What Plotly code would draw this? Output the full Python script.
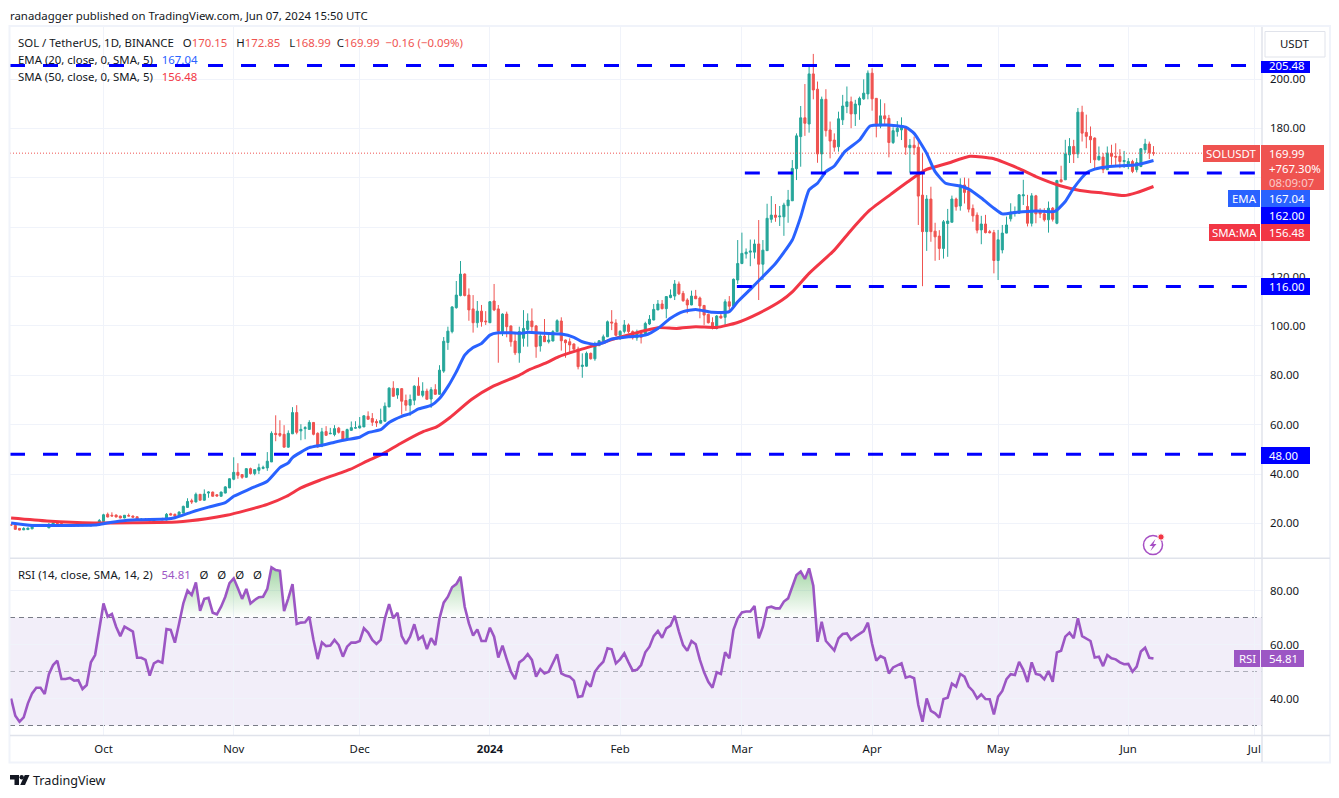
import pandas as pd
import plotly.graph_objects as go

# candles, Sep 9 2023 to Jun 7 2024
first_day = "2023-09-09"
last_day = "2024-06-07"

opens = [
    19.5, 19.2, 18.0, 17.4, 17.5, 17.8, 18.8, 19.2, 19.1, 18.2, 19.6, 20.2, 20.0, 19.3, 19.5, 19.4, 19.0, 19.3, 19.1, 19.0, 19.8, 19.6,
    20.8, 23.7, 23.3, 23.4, 23.0, 22.2, 23.2, 23.0, 22.7, 21.6, 21.7, 21.5, 20.6, 21.6, 21.7, 21.4, 23.9, 23.7, 22.9, 24.2, 26.5, 29.2, 28.7, 31.8, 29.4, 32.3, 32.7, 31.6, 31.0, 32.3, 34.4,
    37.9, 40.7, 39.8, 38.7, 42.2, 40.2, 41.5, 42.3, 42.5, 44.9, 56.5, 56.4, 56.1, 50.9, 56.3, 64.9, 57.5, 58.4, 58.1, 60.9, 56.5, 51.3, 57.2, 56.3, 56.0, 58.6, 57.3, 54.2, 57.7, 58.6,
    58.7, 59.1, 63.4, 62.5, 61.3, 60.6, 61.4, 67.2, 74.8, 72.0, 74.6, 69.8, 67.9, 69.9, 75.6, 71.9, 73.6, 70.4, 74.2, 72.3, 81.7, 93.3, 97.7, 107.4, 112.3, 121.0, 112.5, 106.9, 101.3, 106.0, 102.0,
    101.3, 110.1, 106.9, 97.7, 104.8, 100.0, 93.9, 89.1, 95.0, 98.6, 102.0, 100.0, 91.9, 95.9, 93.6, 93.9, 97.7, 102.0, 94.3, 93.6, 92.7, 90.6, 83.6, 83.7, 88.9, 86.7, 92.0, 94.0, 95.6, 101.6, 101.2,
    96.2, 97.8, 100.4, 97.7, 95.2, 97.0, 96.2, 100.8, 102.4, 106.5, 108.9, 107.0, 111.5, 112.1, 117.0, 113.2, 110.5, 108.5, 112.1, 111.3, 108.3, 104.7, 101.4, 99.0, 104.0, 103.5, 109.8, 108.1, 118.6,
    125.3, 129.2, 129.9, 129.9, 133.2, 125.0, 130.5, 143.2, 144.9, 144.2, 144.2, 148.7, 150.7, 163.7, 176.7, 184.3, 181.8, 202.1, 195.9, 169.7, 191.8, 179.4, 175.3, 172.6, 183.5, 188.9, 190.8, 185.9, 189.5, 192.0, 194.0,
    202.4, 192.2, 181.0, 185.1, 184.1, 174.3, 178.7, 179.4, 180.5, 172.2, 173.2, 172.4, 153.0, 138.2, 151.4, 138.4, 136.4, 131.4, 141.5, 142.0, 151.4, 148.6, 157.1, 154.8, 147.6, 144.9, 138.9, 141.3, 138.2, 137.8,
    126.5, 130.8, 137.6, 143.4, 145.9, 145.7, 152.7, 148.4, 141.6, 152.7, 146.3, 145.4, 143.0, 147.7, 141.6, 159.2, 159.2, 169.3, 172.7, 169.7, 186.6, 178.4, 176.8, 176.1, 167.3, 168.4, 163.3, 170.0, 168.7, 168.7, 166.6,
    165.7, 166.6, 163.3, 164.6, 171.4, 173.7, 170.15,
]
closes = [
    19.3, 17.6, 17.3, 17.9, 18.1, 18.8, 19.1, 19.0, 18.8, 19.6, 20.2, 20.0, 19.3, 19.5, 19.4, 19.0, 19.3, 19.1, 19.4, 19.8, 19.6, 21.2,
    23.5, 22.6, 23.0, 22.6, 22.2, 23.3, 23.0, 22.5, 21.4, 21.7, 21.5, 21.0, 21.6, 21.7, 21.5, 23.7, 23.4, 22.9, 24.6, 26.9, 28.9, 28.7, 31.8, 29.4, 31.9, 32.7, 31.0, 31.1, 32.7, 34.8, 38.1,
    40.7, 39.5, 38.7, 42.2, 40.2, 41.8, 42.6, 42.7, 45.2, 56.5, 56.0, 55.7, 50.9, 56.5, 64.9, 56.9, 58.1, 58.8, 60.9, 56.1, 51.0, 57.1, 55.7, 56.5, 58.4, 56.9, 54.2, 58.0, 58.8, 58.8,
    59.5, 63.6, 62.2, 61.0, 60.7, 61.7, 67.5, 74.8, 71.5, 74.6, 69.5, 67.9, 70.2, 75.6, 71.9, 73.6, 70.3, 74.2, 72.3, 82.1, 93.8, 97.9, 107.7, 112.5, 121.0, 112.3, 106.5, 101.3, 106.0, 101.7, 101.7,
    109.8, 106.5, 97.9, 104.8, 99.7, 93.6, 89.1, 97.7, 99.0, 102.0, 99.7, 91.6, 95.9, 93.6, 94.3, 97.7, 102.1, 94.0, 93.2, 92.3, 90.6, 83.5, 84.1, 88.9, 86.7, 92.9, 94.0, 95.6, 101.7, 101.2, 96.2,
    97.8, 100.4, 97.7, 95.2, 97.0, 95.4, 101.0, 102.7, 106.7, 108.9, 107.0, 111.9, 112.5, 117.0, 113.0, 110.2, 108.5, 112.1, 111.0, 108.1, 104.4, 101.3, 99.4, 104.0, 103.2, 109.8, 108.0, 118.9, 125.3,
    129.4, 129.9, 130.3, 133.2, 125.0, 130.7, 143.6, 144.9, 144.0, 144.5, 149.0, 151.0, 163.8, 177.0, 184.3, 182.1, 202.1, 195.6, 169.7, 191.8, 179.1, 174.9, 172.4, 183.9, 189.1, 190.8, 185.9, 189.9, 192.2, 194.3, 202.4,
    192.0, 181.0, 185.1, 183.9, 174.3, 179.1, 180.1, 180.5, 172.4, 173.2, 172.2, 152.6, 138.2, 151.4, 138.2, 136.1, 131.4, 142.2, 142.5, 151.4, 148.3, 157.1, 154.1, 147.3, 144.6, 138.8, 141.3, 137.8, 137.8, 126.5,
    134.9, 137.6, 140.9, 146.1, 146.3, 153.1, 153.1, 141.6, 152.7, 145.4, 145.4, 143.0, 147.7, 143.2, 158.9, 158.4, 169.7, 172.7, 169.7, 186.6, 178.1, 176.8, 175.4, 167.3, 168.7, 163.3, 170.0, 168.7, 168.4, 166.6, 167.0,
    166.6, 162.6, 166.2, 171.8, 173.7, 170.15, 169.99,
]
highs = [
    19.7, 19.3, 18.1, 18.5, 18.3, 19.0, 19.3, 19.4, 19.3, 20.2, 20.5, 20.6, 20.2, 19.7, 19.7, 19.5, 19.4, 19.5, 19.6, 20.0, 20.1, 21.8,
    23.9, 24.4, 24.5, 23.6, 23.1, 23.4, 24.0, 23.2, 22.8, 22.2, 22.2, 21.7, 21.8, 21.9, 22.3, 24.2, 24.3, 24.0, 24.9, 27.2, 30.2, 30.0, 32.5, 31.9, 33.8, 33.0, 32.9, 31.9, 32.9, 35.1, 38.3,
    46.8, 44.4, 39.9, 42.4, 42.6, 41.9, 44.2, 43.4, 48.9, 57.3, 63.8, 61.8, 59.8, 57.7, 67.1, 67.9, 60.2, 59.4, 61.8, 61.1, 56.9, 58.7, 59.4, 58.7, 59.8, 59.1, 57.4, 58.4, 61.3, 61.4,
    63.1, 63.8, 65.4, 64.7, 62.2, 66.5, 69.0, 75.2, 77.6, 74.8, 74.8, 72.2, 72.2, 76.0, 79.2, 77.2, 74.6, 75.2, 76.4, 84.1, 95.5, 99.7, 108.0, 118.2, 126.3, 121.3, 115.2, 112.5, 110.1, 108.5, 106.0,
    110.1, 117.0, 108.5, 105.1, 105.8, 100.2, 97.0, 99.7, 106.4, 105.1, 107.1, 100.4, 97.0, 102.8, 96.7, 98.3, 102.7, 103.5, 94.5, 95.0, 92.9, 91.6, 88.9, 89.6, 89.2, 93.6, 94.3, 96.5, 102.2, 106.4, 102.7,
    98.3, 102.4, 101.0, 98.2, 98.5, 98.4, 101.7, 104.4, 108.9, 110.5, 110.5, 112.1, 114.8, 118.6, 118.0, 114.2, 111.2, 114.3, 114.6, 111.9, 108.5, 105.0, 103.5, 104.4, 105.0, 110.8, 112.1, 119.2, 134.8,
    137.8, 131.4, 135.0, 135.0, 142.9, 134.8, 149.5, 152.6, 149.4, 148.6, 149.9, 155.1, 167.2, 178.0, 189.1, 198.0, 205.4, 210.2, 199.0, 192.9, 195.9, 182.8, 178.0, 186.8, 193.6, 197.0, 192.9, 191.6, 192.9, 199.9, 203.5,
    204.4, 192.2, 191.8, 190.2, 185.5, 180.5, 183.0, 184.5, 181.0, 175.7, 176.7, 176.0, 170.0, 153.0, 156.4, 141.8, 138.8, 142.9, 147.4, 152.8, 152.0, 159.8, 160.1, 159.8, 149.2, 146.0, 144.6, 145.0, 138.9, 138.9,
    138.9, 140.9, 144.3, 149.7, 148.4, 153.4, 159.2, 153.1, 153.8, 153.1, 147.7, 147.7, 150.4, 148.2, 159.2, 164.9, 175.4, 176.1, 175.4, 188.3, 189.2, 185.6, 180.8, 176.4, 172.7, 170.0, 172.7, 173.4, 174.0, 171.6, 170.9,
    168.0, 167.3, 168.0, 172.0, 175.8, 174.7, 172.85,
]
lows = [
    19.2, 17.5, 17.2, 17.3, 17.4, 17.7, 18.7, 18.8, 18.6, 18.1, 19.5, 19.8, 19.2, 19.2, 19.2, 18.9, 18.9, 19.0, 19.0, 18.9, 19.4, 19.4,
    20.7, 22.5, 22.9, 22.5, 22.1, 22.1, 22.9, 22.4, 21.2, 21.4, 21.3, 20.8, 20.5, 21.4, 21.3, 21.3, 23.3, 22.7, 22.8, 24.1, 26.3, 27.9, 28.5, 29.3, 29.2, 30.4, 30.9, 30.9, 30.9, 32.2, 34.3,
    37.5, 38.1, 38.1, 38.6, 39.8, 39.5, 40.0, 41.9, 41.3, 44.9, 53.3, 55.0, 50.8, 50.7, 56.2, 56.1, 53.7, 54.1, 58.1, 55.7, 50.7, 50.9, 55.6, 56.2, 55.3, 56.4, 53.3, 53.7, 57.5, 58.4,
    58.4, 59.0, 62.1, 59.5, 59.1, 60.5, 61.3, 67.1, 71.4, 70.5, 64.1, 65.6, 63.6, 67.9, 71.8, 71.1, 70.2, 66.8, 72.2, 72.2, 81.0, 90.3, 97.0, 107.0, 112.0, 112.0, 102.1, 97.3, 99.3, 99.7, 100.4,
    101.2, 106.0, 85.1, 95.9, 95.4, 91.6, 88.2, 85.1, 91.6, 91.6, 97.0, 87.1, 89.6, 93.5, 92.9, 93.8, 97.6, 90.0, 87.1, 88.9, 90.4, 82.4, 79.0, 83.5, 86.4, 85.9, 91.9, 93.2, 95.5, 98.3, 96.0,
    94.3, 97.0, 97.0, 94.5, 94.0, 92.9, 95.9, 100.4, 102.3, 106.4, 106.7, 103.1, 111.2, 110.5, 112.5, 109.8, 105.1, 108.4, 110.9, 103.1, 100.4, 101.0, 98.6, 98.6, 103.0, 100.4, 105.8, 107.9, 117.0,
    125.0, 127.3, 124.2, 127.3, 110.5, 118.6, 130.4, 141.8, 142.2, 140.5, 136.5, 141.8, 150.6, 159.1, 164.5, 177.0, 178.3, 191.8, 166.1, 161.8, 176.7, 167.9, 170.6, 170.6, 181.4, 186.2, 180.1, 181.0, 183.5, 191.6, 191.8,
    187.2, 176.4, 180.1, 181.4, 168.3, 173.7, 176.7, 175.3, 169.3, 162.1, 169.3, 140.9, 116.1, 130.4, 134.1, 126.4, 126.7, 127.3, 128.0, 142.0, 146.7, 146.7, 149.6, 146.0, 142.2, 137.5, 133.1, 137.5, 137.5, 121.3,
    118.6, 129.4, 137.5, 142.3, 144.3, 145.4, 149.0, 140.3, 140.3, 141.6, 143.7, 142.3, 137.8, 142.3, 141.2, 158.1, 159.1, 166.0, 166.0, 168.0, 174.7, 172.0, 166.0, 163.3, 167.0, 161.9, 163.2, 165.3, 164.6, 163.9, 164.0,
    163.5, 161.9, 162.2, 164.3, 170.0, 167.6, 168.99,
]

# one RSI value per candle
rsi_values = [
    40, 33.6, 31.4, 33, 38.2, 41.9, 44, 44, 41.7, 49, 52.4, 54, 47.2, 47.2, 47.6, 46.6, 46.8, 43.5, 45, 53.4, 56.1, 66,
    75.2, 70.3, 71.3, 66.6, 63.1, 66.6, 65.7, 64.8, 55.1, 55.1, 54.3, 48.5, 53, 53.9, 53.3, 65.7, 65.4, 60.7, 67.8, 75.2, 80, 78.3, 83, 72.5, 76.9, 77.3, 71.8, 71.2, 74, 77.7, 82.7,
    84.5, 80.8, 76.9, 80.6, 75.2, 76.5, 77.5, 77.7, 80.6, 88.6, 87.6, 87.3, 72.4, 77.1, 82.4, 67.6, 68.1, 68.2, 70.3, 61.7, 54.6, 60.8, 59.4, 59.6, 61.7, 59.8, 55.5, 59.2, 60.7, 60.7,
    61.3, 66, 64.4, 61.7, 60.2, 61.7, 69.7, 75, 69.7, 71.8, 63.1, 60.2, 62.9, 67.5, 61.9, 63.1, 58.3, 62.3, 59.8, 69.7, 75.5, 77.7, 81.2, 82.4, 85.1, 74, 67.8, 63.3, 65.6, 61.3, 61.3,
    66.2, 62.9, 55.2, 59.6, 54.6, 49.9, 47.2, 53.4, 54.5, 56.4, 54.3, 48.1, 50.9, 49.3, 49.9, 53, 56.4, 49.3, 48.5, 48.1, 46.6, 40.6, 40.9, 46, 44.4, 49.9, 52, 53.6, 58.6, 58.2, 53,
    54.5, 56.7, 53.4, 50.3, 50.6, 52.4, 57.1, 59.2, 63.1, 65, 62.5, 66, 67, 70.6, 64.8, 59.8, 57.7, 61.3, 60.1, 54.3, 49.7, 46.2, 44, 49.7, 49.1, 57.1, 54.9, 65.4, 69.7,
    71.9, 72.2, 72.2, 74.3, 62.3, 66.6, 73.6, 74, 73.4, 73.4, 75.9, 77.1, 81.8, 85.7, 87, 84.3, 88.2, 81.8, 61, 68.4, 61.3, 59.4, 57.8, 62.3, 63.9, 64.1, 61.7, 62.9, 63.9, 65, 68.1,
    60.2, 54, 55.7, 54.9, 49.3, 51.5, 52.4, 53, 47.7, 48.2, 47.5, 37.6, 31.4, 40, 35.4, 34.5, 32.9, 39.8, 40.3, 45.5, 44.4, 49.1, 48.1, 44.4, 42.8, 40, 41.5, 39.8, 39.7, 34.1,
    40.7, 42.8, 47.2, 49, 48.7, 53.6, 50.6, 46.1, 53.4, 49.1, 48.7, 47.1, 50.2, 46.2, 57.1, 57.7, 62.9, 64.4, 62.3, 69.7, 63.1, 62.3, 61.3, 55.2, 55.5, 52, 56.1, 54.9, 54.5, 53.4, 52.7,
    52.8, 49.9, 51.8, 57.4, 58.8, 55.1, 54.81,
]

# EMA and SMA read at spots along the lines, days counted from Oct 1 2023
ema_days = [-22, -17, -9, -2, 0, 4, 8, 15, 17, 21, 25, 29, 31, 35, 39, 42, 44, 45, 49, 52, 55, 58, 61, 63, 66, 68, 71, 73, 75, 78, 80, 82, 84, 86, 88, 90, 92, 94, 97, 99.5, 101, 105, 109, 112, 114, 117, 119, 121, 125, 129, 132, 135, 138, 141, 145, 149, 151, 154, 156, 160, 164, 166, 168, 170, 172, 174, 176.5, 180, 182.5, 186.5, 191, 193, 196, 198, 200.5, 204, 206, 209, 212, 214, 217.5, 222, 226.5, 229, 231, 234, 236, 239.5, 246, 250]
ema_values = [20.2, 19.2, 19.2, 19.35, 19.9, 21, 21.5, 21.8, 22.3, 24.6, 26.6, 28.4, 31, 34.1, 37.1, 42.6, 44.5, 46.7, 50.7, 51.7, 52.9, 54, 54.9, 56.8, 58, 60.9, 63.4, 64.5, 66.4, 67.8, 70.6, 75.4, 81.4, 88.2, 91.3, 92.9, 96.3, 97.2, 97.2, 97, 97.4, 97, 96.7, 95.4, 93.6, 92.5, 93.2, 94.7, 95.6, 96.3, 99, 103.1, 105.8, 106.7, 105.5, 105.8, 109.8, 114.8, 118.3, 125.3, 134.8, 144.2, 155.1, 157.8, 162.5, 164.8, 170.6, 175.3, 181, 181.4, 180.5, 178, 169.9, 162.5, 157.8, 156.7, 155.4, 151.8, 147.7, 145.4, 146.1, 146.6, 146.4, 150.4, 155.8, 161.9, 163.5, 164.6, 165.3, 167.04]
sma_days = [-22, -13.5, -2.4, 7, 17.4, 24.5, 29.3, 34, 39, 43.6, 47, 51.5, 58.7, 62.7, 66.6, 70.6, 76, 79.3, 82.5, 87.6, 92.8, 98.8, 101.5, 105.5, 108.3, 112.7, 116.6, 122, 127, 132, 136.5, 141, 146, 150.8, 156, 161.5, 164, 168, 174, 178, 182.5, 187.5, 191.5, 196, 201, 206.3, 212, 218, 222, 227.8, 232.5, 238, 243, 246, 250]
sma_values = [22.2, 21, 20.2, 20.3, 20.6, 21.9, 23.3, 25.3, 27.7, 31, 34.4, 37.5, 41.9, 45.2, 48.3, 52.3, 57.1, 59.1, 62.9, 70.2, 75.6, 79.9, 82.4, 85.1, 87.5, 90, 91.9, 95, 97.3, 99.3, 99, 99.7, 99.4, 101.3, 105.1, 110.4, 113.8, 121.3, 130.7, 138.8, 147, 153.4, 158.4, 163.4, 165.9, 168.7, 167.7, 163.7, 160.5, 156.8, 154.9, 153.8, 152.8, 154, 156.48]

# drawn support and resistance levels and where each starts
level_prices = [205.48, 162, 116, 48]
level_start_days = [-22.26, 152.7, 150.8, -22.26]

last_price = 169.99
price_ticks = [20, 40, 60, 80, 100, 120, 140, 160, 180, 200]
# 140 and 160 sit under the price boxes in the screenshot, only their gridlines show
price_labels = ["20.00", "40.00", "60.00", "80.00", "100.00", "120.00", "", "", "180.00", "200.00"]
rsi_ticks = [40, 60, 80]
month_ticks = ["2023-10-01", "2023-11-01", "2023-12-01", "2024-01-01", "2024-02-01", "2024-03-01", "2024-04-01", "2024-05-01", "2024-06-01", "2024-07-01"]
month_labels = ["Oct", "Nov", "Dec", "<b>2024</b>", "Feb", "Mar", "Apr", "May", "Jun", "Jul"]

UP = "#26a69a"
DOWN = "#ef5350"
EMA_BLUE = "#2962ff"
SMA_RED = "#f23645"
LEVEL_BLUE = "#0000ff"
RSI_PURPLE = "#9c56c4"
TEXT = "#131722"
GRID = "#f0f3fa"
BORDER = "#e0e3eb"
FONT = "Noto Sans"
FONT_SIZE = 11.4

# plot area in page pixels
LEFT, RIGHT, TOP, BOTTOM = 10, 1262, 27, 735
MAIN_BOTTOM, RSI_TOP = 557, 559


def px_x(x):
    return (x - LEFT) / (RIGHT - LEFT)


def px_y(y):
    return (BOTTOM - y) / (BOTTOM - TOP)


def day(d):
    return pd.Timestamp("2023-10-01") + pd.Timedelta(days=d)


def box(x0, y0, x1, y1, color, line=None):
    return dict(type="rect", xref="paper", yref="paper", layer="above",
                x0=px_x(x0), x1=px_x(x1), y0=px_y(y0), y1=px_y(y1),
                fillcolor=color, line=dict(color=line or color, width=1 if line else 0))


def poly(points, color):
    path = "M" + " L".join(f"{px_x(x):.5f},{px_y(y):.5f}" for x, y in points) + " Z"
    return dict(type="path", xref="paper", yref="paper", layer="above", path=path,
                fillcolor=color, line=dict(width=0))


def circle(cx, cy, r, fill, line, width):
    return dict(type="circle", xref="paper", yref="paper", layer="above",
                x0=px_x(cx - r), x1=px_x(cx + r), y0=px_y(cy + r), y1=px_y(cy - r),
                fillcolor=fill, line=dict(color=line, width=width))


def label(x, y, text, color=TEXT, size=FONT_SIZE, anchor="left"):
    return dict(xref="paper", yref="paper", x=px_x(x), y=px_y(y), text=text, showarrow=False,
                xanchor=anchor, yanchor="middle", align=anchor, borderpad=0, borderwidth=0,
                font=dict(family=FONT, size=size, color=color))


dates = pd.date_range(first_day, last_day, freq="D")
x_start, x_end = day((LEFT - 103.5) / 4.2), day((RIGHT - 103.5) / 4.2)

fig = go.Figure()

# green shading where the RSI goes over 70
fig.add_trace(go.Scatter(x=dates, y=[70] * len(dates), mode="lines", line=dict(width=0), yaxis="y"))
fig.add_trace(go.Scatter(
    x=dates, y=[max(v, 70) for v in rsi_values], mode="lines", line=dict(width=0), yaxis="y",
    fill="tonexty",
    fillgradient=dict(type="vertical", start=70, stop=90,
                      colorscale=[[0, "rgba(76,175,80,0)"], [1, "rgba(76,175,80,0.55)"]]),
))
fig.add_trace(go.Scatter(x=dates, y=rsi_values, mode="lines", line=dict(color=RSI_PURPLE, width=2.6), yaxis="y"))

fig.add_trace(go.Candlestick(
    x=dates, open=opens, high=highs, low=lows, close=closes, yaxis="y2", whiskerwidth=0,
    increasing=dict(line=dict(color=UP, width=1), fillcolor=UP),
    decreasing=dict(line=dict(color=DOWN, width=1), fillcolor=DOWN),
))
fig.add_trace(go.Scatter(x=[x_start, x_end], y=[last_price, last_price], mode="lines", yaxis="y2",
                         line=dict(color=DOWN, width=1, dash="1px,2px")))
fig.add_trace(go.Scatter(x=[day(d) for d in sma_days], y=sma_values, mode="lines", yaxis="y2",
                         line=dict(color=SMA_RED, width=3, shape="spline", smoothing=0.5)))
fig.add_trace(go.Scatter(x=[day(d) for d in ema_days], y=ema_values, mode="lines", yaxis="y2",
                         line=dict(color=EMA_BLUE, width=3, shape="spline", smoothing=0.5)))
for price, start in zip(level_prices, level_start_days):
    fig.add_trace(go.Scatter(x=[day(start), x_end], y=[price, price], mode="lines", yaxis="y2",
                             line=dict(color=LEVEL_BLUE, width=3, dash="15px,18px")))

shapes = [
    # RSI band and its dashed guides
    dict(type="rect", xref="paper", yref="y", x0=0, x1=1, y0=30, y1=70, layer="below",
         fillcolor="rgba(126,87,194,0.1)", line=dict(width=0)),
    dict(type="line", xref="paper", yref="y", x0=0, x1=1, y0=70, y1=70, layer="below",
         line=dict(color="#787b86", width=1, dash="5px,4px")),
    dict(type="line", xref="paper", yref="y", x0=0, x1=1, y0=50, y1=50, layer="below",
         line=dict(color="rgba(120,123,134,0.55)", width=1, dash="5px,4px")),
    dict(type="line", xref="paper", yref="y", x0=0, x1=1, y0=30, y1=30, layer="below",
         line=dict(color="#787b86", width=1, dash="5px,4px")),
    # clips the Jul label at the price axis
    box(1262.5, 737, 1328, 761, "white"),
    # chart frame
    dict(type="rect", xref="paper", yref="paper", layer="above", x0=px_x(9.5), x1=px_x(1330), y0=px_y(762.5), y1=px_y(26),
         line=dict(color=GRID, width=2)),
    dict(type="line", xref="paper", yref="paper", layer="above", x0=px_x(1262), x1=px_x(1262), y0=px_y(762), y1=px_y(27),
         line=dict(color=BORDER, width=1.5)),
    dict(type="line", xref="paper", yref="paper", layer="above", x0=px_x(10), x1=px_x(1330), y0=px_y(735.5), y1=px_y(735.5),
         line=dict(color=BORDER, width=1.5)),
    dict(type="line", xref="paper", yref="paper", layer="above", x0=px_x(10), x1=px_x(1330), y0=px_y(558.3), y1=px_y(558.3),
         line=dict(color=BORDER, width=1.5)),
    # price axis labels
    box(1265, 31.5, 1325, 57, "white", BORDER),
    box(1261, 61, 1310, 73, LEVEL_BLUE),
    box(1203, 145, 1260, 162, DOWN),
    box(1261, 145, 1324, 190, DOWN),
    box(1228, 190, 1260, 207, EMA_BLUE),
    box(1261, 190, 1310, 207, EMA_BLUE),
    box(1261, 207, 1310, 224, LEVEL_BLUE),
    box(1209, 224, 1260, 241, SMA_RED),
    box(1261, 224, 1310, 241, SMA_RED),
    box(1261, 278, 1310, 295, LEVEL_BLUE),
    box(1261, 447, 1310, 464, LEVEL_BLUE),
    box(1234, 650, 1260, 667, RSI_PURPLE),
    box(1261, 650, 1304, 667, RSI_PURPLE),
    # news icon
    circle(1153, 545, 9.5, "white", "#a64fc4", 1.5),
    circle(1161, 537, 3.2, SMA_RED, "white", 1),
    poly([(1155.5, 539), (1149.5, 546), (1152.8, 546), (1150.5, 551), (1156.5, 544), (1153.4, 544)], "#a64fc4"),
    # TradingView logo
    poly([(10, 775), (19, 775), (19, 785), (14.5, 785), (14.5, 779.5), (10, 779.5)], TEXT),
    circle(21.7, 777.3, 2.2, TEXT, TEXT, 0),
    poly([(24.8, 775), (29.5, 775), (25, 785), (20.2, 785)], TEXT),
]

red = f'<span style="color:{DOWN}">'
gap = "&nbsp;&nbsp;&nbsp;"
annotations = [
    label(10, 15, "ranadagger published on TradingView.com, Jun 07, 2024 15:50 UTC"),
    label(18, 42, f"SOL / TetherUS, 1D, BINANCE{gap}O{red}170.15</span>{gap}H{red}172.85</span>"
                  f"{gap}L{red}168.99</span>&nbsp;&nbsp;C{red}169.99</span>&nbsp;&nbsp;{red}−0.16 (−0.09%)</span>"),
    label(18, 59, f'EMA (20, close, 0, SMA, 5){gap}<span style="color:{EMA_BLUE}">167.04</span>'),
    label(18, 76, f'SMA (50, close, 0, SMA, 5){gap}<span style="color:{SMA_RED}">156.48</span>'),
    label(18, 574, f'RSI (14, close, SMA, 14, 2){gap}<span style="color:{RSI_PURPLE}">54.81</span>'
                   f'{gap}Ø{gap}Ø{gap}Ø{gap}Ø'),
    label(33, 780, "TradingView", size=12.6),
    label(1295, 44, "USDT", anchor="center"),
    label(1269, 66, "205.48", "white"),
    label(1231.5, 153.5, "SOLUSDT", "white", anchor="center"),
    label(1269, 153.5, "169.99", "white"),
    label(1269, 168, "+767.30%", "white"),
    label(1269, 182, "08:09:07", "rgba(255,255,255,0.7)"),
    label(1244, 198.5, "EMA", "white", anchor="center"),
    label(1269, 198.5, "167.04", "white"),
    label(1269, 215.5, "162.00", "white"),
    label(1234.5, 232.5, "SMA:MA", "white", anchor="center"),
    label(1269, 232.5, "156.48", "white"),
    label(1269, 286.5, "116.00", "white"),
    label(1269, 455.5, "48.00", "white"),
    label(1247, 658.5, "RSI", "white", anchor="center"),
    label(1269, 658.5, "54.81", "white"),
]

fig.update_layout(
    width=1339, height=798, showlegend=False, hovermode=False, dragmode=False,
    paper_bgcolor="white", plot_bgcolor="white", boxgap=0.3,
    margin=dict(l=LEFT, r=1339 - RIGHT, t=TOP, b=798 - BOTTOM, pad=0, autoexpand=False),
    font=dict(family=FONT, size=FONT_SIZE, color=TEXT),
    xaxis=dict(type="date", range=[x_start, x_end], rangeslider=dict(visible=False),
               tickmode="array", tickvals=month_ticks, ticktext=month_labels, tickangle=0,
               showgrid=True, gridcolor=GRID, gridwidth=1, zeroline=False, showline=False,
               ticks="", ticklabelstandoff=6, tickfont=dict(family=FONT, size=FONT_SIZE, color=TEXT), anchor="y"),
    yaxis=dict(domain=[0, (BOTTOM - RSI_TOP) / (BOTTOM - TOP)], range=[26.48, 91.67], side="right",
               tickmode="array", tickvals=rsi_ticks, ticktext=[f"{v:.2f}" for v in rsi_ticks],
               showgrid=True, gridcolor=GRID, gridwidth=1, zeroline=False, showline=False,
               ticks="", ticklabelstandoff=7, tickfont=dict(family=FONT, size=FONT_SIZE, color=TEXT)),
    yaxis2=dict(domain=[(BOTTOM - MAIN_BOTTOM) / (BOTTOM - TOP), 1], range=[6.4, 221.1], side="right", anchor="x",
                tickmode="array", tickvals=price_ticks, ticktext=price_labels,
                showgrid=True, gridcolor=GRID, gridwidth=1, zeroline=False, showline=False,
                ticks="", ticklabelstandoff=7, tickfont=dict(family=FONT, size=FONT_SIZE, color=TEXT)),
    shapes=shapes,
    annotations=annotations,
)

fig.write_html("out.html", config={"displayModeBar": False},
               post_script="document.body.style.margin='0';document.documentElement.style.overflow='hidden';")
